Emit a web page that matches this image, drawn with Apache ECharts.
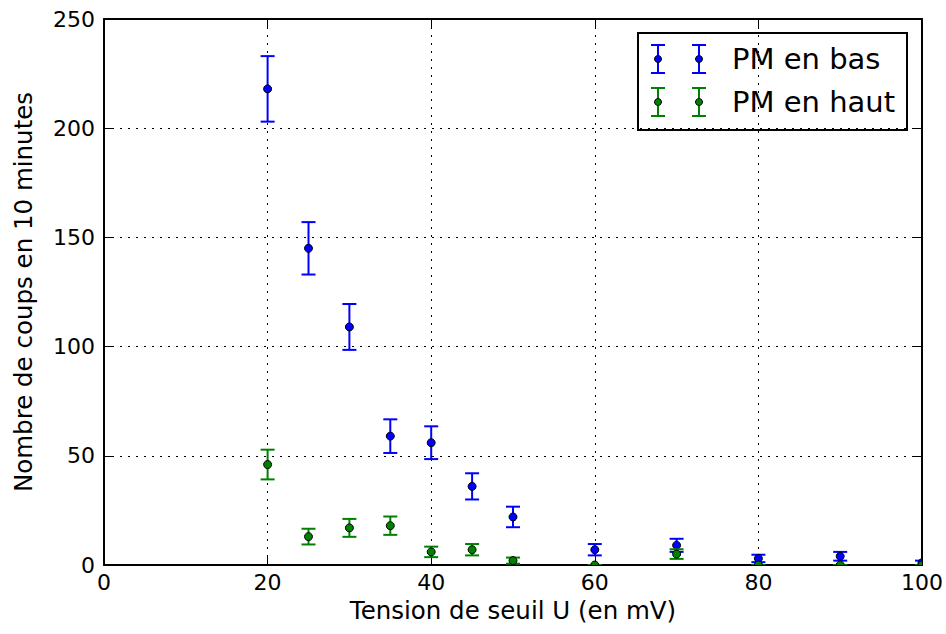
<!DOCTYPE html>
<html>
<head>
<meta charset="utf-8">
<style>
  html, body { margin: 0; padding: 0; background: #fff; }
  #chart { width: 946px; height: 634px; }
</style>
<script src="https://cdn.jsdelivr.net/npm/echarts@6/dist/echarts.min.js"></script>
</head>
<body>
<div id="chart"></div>
<script>
// tension de seuil (mV)
const seuils = [20, 25, 30, 35, 40, 45, 50, 60, 70, 80, 90, 100];
// PM en bas
const basCoups = [218, 145, 109, 59, 56, 36, 22, 7, 9, 3, 4, 1];
const basErr = [15, 12, 10.5, 7.7, 7.5, 6, 4.7, 2.6, 3, 1.7, 2, 1];
// PM en haut
const hautCoups = [46, 13, 17, 18, 6, 7, 2, 0, 5, 0, 0, 0];
const hautErr = [6.8, 3.6, 4.1, 4.2, 2.4, 2.6, 1.4, 0, 2.2, 0, 0, 0];

const xTicks = [0, 20, 40, 60, 80, 100];
const yTicks = [0, 50, 100, 150, 200, 250];

const FONT = 'DejaVu Sans';
const BLUE = '#0000ff';
const GREEN = '#008000';

// error bars + marker, clipped to the plot area like matplotlib
function errorSeries(name, ys, errs, color) {
    return {
        name: name,
        type: 'custom',
        clip: true,
        data: seuils.map((x, i) => [x, ys[i], errs[i]]),
        renderItem: function(params, api) {
            let x = api.value(0);
            let y = api.value(1);
            let e = api.value(2);
            let c = api.coord([x, y]);
            let hi = api.coord([x, y + e]);
            let lo = api.coord([x, y - e]);
            let cap = 7;
            let style = { stroke: color, lineWidth: 2 };
            return {
                type: 'group',
                children: [
                    { type: 'line', shape: { x1: hi[0], y1: hi[1], x2: lo[0], y2: lo[1] }, style: style },
                    { type: 'line', shape: { x1: hi[0] - cap, y1: hi[1], x2: hi[0] + cap, y2: hi[1] }, style: style },
                    { type: 'line', shape: { x1: lo[0] - cap, y1: lo[1], x2: lo[0] + cap, y2: lo[1] }, style: style },
                    { type: 'circle', shape: { cx: c[0], cy: c[1], r: 4 }, style: { fill: color, stroke: '#000', lineWidth: 1 } },
                ],
            };
        },
    };
}

function axisCommon(extra) {
    return Object.assign({
        type: 'value',
        axisLine: { show: true, onZero: false, lineStyle: { color: '#000', width: 2 } },
        axisTick: { show: true, inside: true, length: 8, lineStyle: { color: '#000', width: 1 } },
        minorTick: { show: false },
    }, extra);
}

// legend icon: two error bars with dots
function legendRow(y, color, label) {
    let kids = [];
    [658, 699].forEach((cx) => {
        kids.push({ type: 'line', shape: { x1: cx, y1: y - 14, x2: cx, y2: y + 14 }, style: { stroke: color, lineWidth: 2 } });
        kids.push({ type: 'line', shape: { x1: cx - 7, y1: y - 14, x2: cx + 7, y2: y - 14 }, style: { stroke: color, lineWidth: 2 } });
        kids.push({ type: 'line', shape: { x1: cx - 7, y1: y + 14, x2: cx + 7, y2: y + 14 }, style: { stroke: color, lineWidth: 2 } });
        kids.push({ type: 'circle', shape: { cx: cx, cy: y, r: 3.5 }, style: { fill: color, stroke: '#000', lineWidth: 1 } });
    });
    kids.push({
        type: 'text',
        style: { x: 732, y: y, text: label, font: '29px "DejaVu Sans"', fill: '#000', verticalAlign: 'middle' },
    });
    return kids;
}

const chart = echarts.init(document.getElementById('chart'), null, { renderer: 'svg' });

const option = {
    backgroundColor: '#fff',
    animation: false,
    textStyle: { fontFamily: FONT },
    grid: { left: 104, right: 24, top: 19, bottom: 69 },
    xAxis: [
        axisCommon({
            min: 0, max: 100, interval: 20,
            name: 'Tension de seuil U (en mV)',
            nameLocation: 'middle',
            nameGap: 32,
            nameTextStyle: { fontFamily: FONT, fontSize: 24.5, color: '#000', verticalAlign: 'top' },
            axisLabel: {
                fontFamily: FONT, fontSize: 22, color: '#000', margin: 6,
                formatter: (v) => (xTicks.indexOf(v) >= 0 ? String(v) : ''),
            },
            splitLine: { show: true, lineStyle: { color: '#000', type: [2, 6], width: 1 } },
        }),
        axisCommon({
            position: 'top', min: 0, max: 100, interval: 20,
            axisLabel: { show: false }, splitLine: { show: false },
        }),
    ],
    yAxis: [
        axisCommon({
            min: 0, max: 250, interval: 50,
            name: 'Nombre de coups en 10 minutes',
            nameLocation: 'middle',
            nameGap: 68,
            nameRotate: 90,
            nameTextStyle: { fontFamily: FONT, fontSize: 24.5, color: '#000' },
            axisLabel: {
                fontFamily: FONT, fontSize: 22, color: '#000', margin: 9,
                formatter: (v) => (yTicks.indexOf(v) >= 0 ? String(v) : ''),
            },
            splitLine: { show: true, lineStyle: { color: '#000', type: [2, 6], width: 1 } },
        }),
        axisCommon({
            position: 'right', min: 0, max: 250, interval: 50,
            axisLabel: { show: false }, splitLine: { show: false },
        }),
    ],
    series: [
        errorSeries('PM en bas', basCoups, basErr, BLUE),
        errorSeries('PM en haut', hautCoups, hautErr, GREEN),
    ],
    graphic: [
        {
            type: 'group',
            z: 100,
            children: [
                { type: 'rect', shape: { x: 638, y: 33, width: 269, height: 97 }, style: { fill: '#fff', stroke: '#000', lineWidth: 2 } },
            ].concat(legendRow(59, BLUE, 'PM en bas'), legendRow(102, GREEN, 'PM en haut')),
        },
    ],
};

chart.setOption(option);
</script>
</body>
</html>
